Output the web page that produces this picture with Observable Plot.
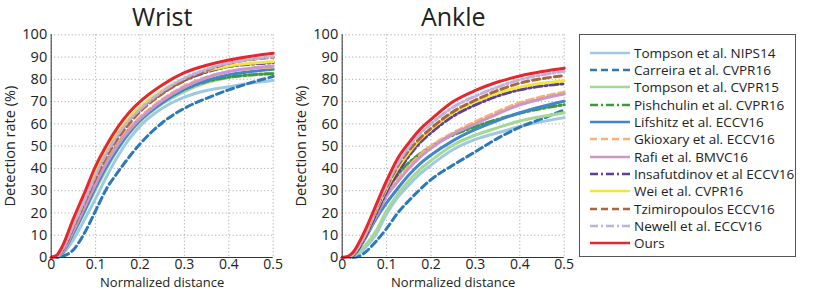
<!DOCTYPE html>
<html>
<head>
<meta charset="utf-8">
<script src="https://cdn.jsdelivr.net/npm/d3@7"></script>
<script src="https://cdn.jsdelivr.net/npm/@observablehq/plot@0.6"></script>
<style>
  html, body { margin: 0; padding: 0; background: #fff; }
  #wrap { position: relative; width: 831px; height: 290px; font-family: "Open Sans", sans-serif; color: #222; }
  .panel { position: absolute; top: 0; }
  #legend { position: absolute; left: 579px; top: 34px; width: 215px; height: 221px; border: 1px solid #555; box-sizing: content-box; }
  .row { position: absolute; left: 0; height: 17px; display: flex; align-items: center; font-size: 13.5px; white-space: nowrap; }
  .row svg { margin-left: 10px; margin-right: 4px; }
</style>
</head>
<body>
<div id="wrap">
  <div id="p1" class="panel" style="left:0px"></div>
  <div id="p2" class="panel" style="left:291px"></div>
  <div id="legend"></div>
</div>
<script>
// ---- data ----
const distance = [0, 0.0125, 0.025, 0.05, 0.075, 0.1, 0.125, 0.15, 0.175, 0.2, 0.25, 0.3, 0.35, 0.4, 0.45, 0.5];
const methods = [
  "Tompson et al. NIPS14",
  "Carreira et al. CVPR16",
  "Tompson et al. CVPR15",
  "Pishchulin et al. CVPR16",
  "Lifshitz et al. ECCV16",
  "Gkioxary et al. ECCV16",
  "Rafi et al. BMVC16",
  "Insafutdinov et al ECCV16",
  "Wei et al. CVPR16",
  "Tzimiropoulos ECCV16",
  "Newell et al. ECCV16",
  "Ours"
];
const wristRates = [
  [0, 0.2, 1.5, 8, 17, 26.5, 36.5, 45.5, 53, 59, 67, 72, 75, 76.7, 78.3, 79.5],
  [0, 0, 0.5, 3.5, 11, 21, 31, 38.3, 45, 51, 60.5, 67, 71.5, 75.3, 78.5, 81.3],
  [0, 0.3, 2, 10.5, 20.5, 30.5, 40, 48.5, 55.5, 61, 69, 74.5, 78.5, 80.8, 82, 82.7],
  [0, 0.3, 2.5, 12.5, 23, 33.5, 43, 51, 57.5, 62.5, 70, 75.5, 79, 81, 82, 82.5],
  [0, 0.3, 2, 11, 21, 31.5, 41, 49, 56, 61.5, 69.5, 75.5, 79.5, 82, 83.5, 84.5],
  [0, 0.4, 2.5, 12.5, 23, 34, 43.5, 51.5, 58, 63, 71, 77, 81, 83.5, 84.8, 85.5],
  [0, 0.4, 2.5, 12, 22.5, 33, 42.5, 50.5, 57, 62.3, 70.5, 76.5, 80.8, 83.5, 85, 86],
  [0, 0.6, 3.5, 14.5, 26, 37.5, 47, 55, 61.5, 66.5, 74, 79.5, 83.3, 85.7, 86.8, 87.5],
  [0, 0.7, 4, 15.5, 27, 38.5, 48, 56, 62.5, 67.5, 75, 80.3, 83.8, 86, 87.2, 87.9],
  [0, 0.5, 3, 13.5, 24.5, 35.5, 45.5, 53.5, 60, 65.5, 73.5, 79.5, 84, 87.2, 88.9, 89.9],
  [0, 0.5, 3.5, 14.5, 25.5, 37, 47, 55, 61.5, 66.5, 74.5, 80.5, 84.5, 87.3, 89, 90.2],
  [0, 1, 5, 17.5, 29, 41, 50.5, 58.5, 65, 70, 77.5, 83, 86.3, 88.7, 90.4, 91.7]
];
const ankleRates = [
  [0, 0, 0.5, 4, 10, 19.5, 27, 32.5, 37.5, 41.5, 48.5, 53, 56, 58.8, 61, 62.8],
  [0, 0, 0, 2, 7, 13, 20, 25.5, 30.5, 35, 41.5, 47.5, 53.5, 58.5, 62.3, 66.3],
  [0, 0, 0.6, 5, 11.5, 21, 28.5, 34.5, 39.5, 43.5, 50.5, 55, 58.3, 61.3, 63.3, 65],
  [0, 0, 1, 9.5, 20, 30, 37, 42.5, 46.5, 50, 55, 58.8, 62, 64.8, 66.9, 68.6],
  [0, 0, 1, 8, 17, 24.5, 31, 37, 42, 46, 52.5, 57.5, 61.5, 65, 67.8, 70.2],
  [0, 0, 1, 9, 19, 28.5, 35, 41, 46, 50, 56, 61, 65.5, 69.5, 72.2, 74.2],
  [0, 0, 1, 8.5, 18, 27.5, 34, 40, 45, 49, 55.5, 60, 64.5, 68.5, 71.3, 73.4],
  [0, 0, 1, 8.5, 19, 29.5, 38, 45.5, 51.5, 56, 63.5, 68.5, 72.5, 75.3, 77, 78],
  [0, 0, 1.5, 9.5, 20.5, 31, 40, 47, 53, 57.5, 65, 70, 73.8, 76.5, 78.2, 79.4],
  [0, 0, 1.5, 10, 21, 31.5, 41, 48, 53.5, 58, 65.5, 70.7, 75, 78.3, 80.3, 81.7],
  [0, 0, 1.5, 10, 21.5, 32.5, 42, 49.5, 55.5, 60, 67.5, 72.5, 76.5, 79.8, 82, 83.6],
  [0, 0.5, 2.5, 11.5, 23, 34.5, 44.5, 51.5, 57.5, 62, 70, 75, 78.8, 81.5, 83.5, 85]
];
const xTicks = [0, 0.1, 0.2, 0.3, 0.4, 0.5];
const yTicks = [0, 10, 20, 30, 40, 50, 60, 70, 80, 90, 100];

// ---- styles ----
const lineColors = ["#9ecae1", "#2f78b7", "#a5d894", "#3a9b3a", "#3f86cc", "#fdb070", "#cc96ca", "#5f3f9c", "#eee83e", "#ab6640", "#c0b1d9", "#e8262b"];
const lineDash = [null, "7,4", null, "8,3,2,3", null, "7,4", null, "8,3,2,3", null, "7,4", "8,3,2,3", null];

function rowsFor(rates) {
  const rows = [];
  rates.forEach((vals, i) => vals.forEach((v, j) => rows.push({method: methods[i], idx: i, x: distance[j], y: v})));
  return rows;
}

function panel(title, rates) {
  const rows = rowsFor(rates);
  const lines = methods.map((m, i) => Plot.line(rows.filter(d => d.idx === i), {
    x: "x", y: "y", stroke: lineColors[i], strokeWidth: 3,
    strokeDasharray: lineDash[i] || undefined, curve: "monotone-x"
  }));
  return Plot.plot({
    width: 290, height: 290,
    marginLeft: 50.7, marginRight: 17.3, marginTop: 34.3, marginBottom: 33,
    style: {fontFamily: "Open Sans, sans-serif", fontSize: "13px", color: "#222", background: "#fff", overflow: "visible"},
    x: {domain: [0, 0.5]},
    y: {domain: [0, 100]},
    marks: [
      Plot.gridX(xTicks, {stroke: "#888", strokeOpacity: 0.8, strokeDasharray: "1,2.5"}),
      Plot.gridY(yTicks, {stroke: "#888", strokeOpacity: 0.8, strokeDasharray: "1,2.5"}),
      ...lines,
      Plot.ruleX([0], {stroke: "#333", strokeWidth: 1}),
      Plot.ruleY([0], {stroke: "#333", strokeWidth: 1}),
      Plot.axisX(xTicks, {tickSize: 0, tickPadding: 2, tickFormat: d => String(d), fontSize: 14, fill: "#222", label: null}),
      Plot.axisX({tickSize: 0, ticks: [], label: "Normalized distance", labelAnchor: "center", labelArrow: "none", labelOffset: 29, fontSize: 13, fill: "#222"}),
      Plot.axisY(yTicks, {tickSize: 0, tickPadding: 4, fontSize: 14.5, label: "Detection rate (%)", labelAnchor: "center", labelArrow: "none", labelOffset: 46, fill: "#222"}),
      Plot.text([title], {frameAnchor: "top", dy: -17, lineAnchor: "middle", text: d => d, fontSize: 25, fill: "#222"})
    ]
  });
}

document.getElementById("p1").appendChild(panel("Wrist", wristRates));
document.getElementById("p2").appendChild(panel("Ankle", ankleRates));

// ---- legend ----
const legend = document.getElementById("legend");
methods.forEach((m, i) => {
  const row = document.createElement("div");
  row.className = "row";
  row.style.top = (9 + i * 17.36) + "px";
  const dash = lineDash[i] ? `stroke-dasharray="${lineDash[i]}"` : "";
  row.innerHTML = `<svg width="40" height="6"><line x1="0" y1="3" x2="40" y2="3" stroke="${lineColors[i]}" stroke-width="2.5" ${dash}/></svg><span>${m}</span>`;
  legend.appendChild(row);
});
</script>
</body>
</html>
